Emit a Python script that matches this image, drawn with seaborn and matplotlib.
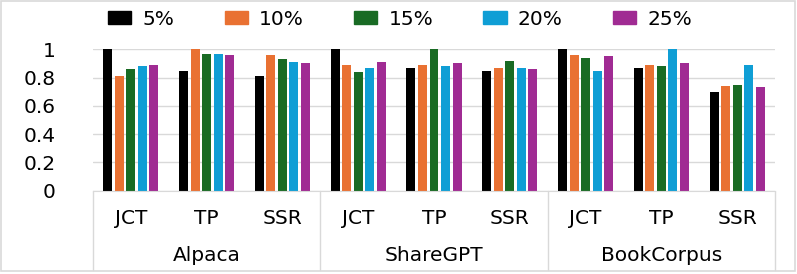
import numpy as np
import pandas as pd
import matplotlib
matplotlib.use('Agg')
import matplotlib.pyplot as plt
import matplotlib.transforms as mtransforms
from matplotlib.patches import Rectangle
import seaborn as sns

datasets = ['Alpaca', 'ShareGPT', 'BookCorpus']
metrics = ['JCT', 'TP', 'SSR']
rates = ['5%', '10%', '15%', '20%', '25%']
colors = ['#000000', '#E97132', '#196B24', '#0F9ED5', '#A02B93']

# values per rate, order: Alpaca JCT/TP/SSR, ShareGPT JCT/TP/SSR, BookCorpus JCT/TP/SSR
r5 = [1.00, 0.85, 0.81, 1.00, 0.87, 0.85, 1.00, 0.87, 0.70]
r10 = [0.81, 1.00, 0.96, 0.89, 0.89, 0.87, 0.96, 0.89, 0.74]
r15 = [0.86, 0.97, 0.93, 0.84, 1.00, 0.92, 0.94, 0.88, 0.75]
r20 = [0.88, 0.965, 0.91, 0.87, 0.88, 0.87, 0.85, 1.00, 0.89]
r25 = [0.89, 0.96, 0.90, 0.91, 0.90, 0.86, 0.95, 0.90, 0.73]

groups = [d + '-' + m for d in datasets for m in metrics]
rows = []
for rate, vals in zip(rates, [r5, r10, r15, r20, r25]):
    for g, v in zip(groups, vals):
        rows.append({'group': g, 'rate': rate, 'value': v})
df = pd.DataFrame(rows)

sns.set_style('white')
plt.rcParams['font.family'] = ['DejaVu Sans']
plt.rcParams['text.color'] = 'black'
plt.rcParams['xtick.color'] = 'black'
plt.rcParams['ytick.color'] = 'black'
fs = 14.5

fig, ax = plt.subplots(figsize=(7.97, 2.74), dpi=100)
fig.subplots_adjust(left=0.1167, right=0.9724, bottom=0.304, top=0.820)

sns.barplot(data=df, x='group', y='value', hue='rate', order=groups,
            hue_order=rates, palette=colors, saturation=1, width=0.76,
            gap=0.22, linewidth=0, ax=ax)

ax.set_ylim(0, 1)
ax.set_xlim(-0.5, 8.5)
ax.set_yticks(np.arange(0, 1.01, 0.2))
ax.set_yticklabels(['0', '0.2', '0.4', '0.6', '0.8', '1'])
ax.set_xticks(range(len(groups)))
ax.set_xticklabels(metrics * 3)
ax.set_xlabel('')
ax.set_ylabel('')
ax.yaxis.grid(True, color='#d9d9d9', lw=1)
ax.set_axisbelow(True)
for s in ['left', 'right', 'top']:
    ax.spines[s].set_visible(False)
ax.spines['bottom'].set_color('#d9d9d9')
ax.tick_params(axis='y', length=0, pad=27, labelsize=fs)
ax.tick_params(axis='x', length=0, pad=13, labelsize=fs)

trans = mtransforms.blended_transform_factory(ax.transData, ax.transAxes)
for i, name in enumerate(datasets):
    ax.text(1 + 3 * i, -0.455, name, transform=trans, ha='center', va='center',
            fontsize=fs)
for x in [-0.5, 2.5, 5.5, 8.5]:
    ax.plot([x, x], [0, -0.56], transform=trans, color='#d9d9d9', lw=1,
            clip_on=False)

ax.get_legend().remove()
handles = [Rectangle((0, 0), 1, 1, color=c) for c in colors]
fig.legend(handles, rates, loc='center', bbox_to_anchor=(0.502, 0.93),
           ncol=5, frameon=False, fontsize=fs, handlelength=1.15,
           handleheight=0.6, handletextpad=0.55, columnspacing=2.5)

fig.patches.append(Rectangle((0.001, 0.012), 0.996, 0.986,
                             transform=fig.transFigure, fill=False,
                             edgecolor='#d9d9d9', lw=1.2))

fig.savefig('out.png', dpi=100)
